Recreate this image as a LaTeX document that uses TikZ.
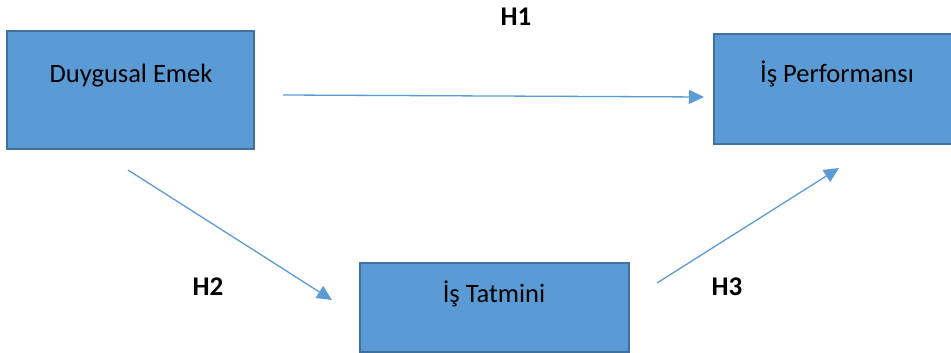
\documentclass[tikz,border=0pt]{standalone}
\usepackage{fontspec}
\setmainfont{Carlito}
\usetikzlibrary{arrows.meta}
\definecolor{boxfill}{HTML}{5B9BD5}
\definecolor{boxline}{HTML}{41719C}
\begin{document}
\begin{tikzpicture}[x=1pt,y=-1pt,
  box/.style={draw=boxline, fill=boxfill, line width=2.5pt, rectangle, inner sep=0pt},
  boxtext/.style={anchor=base, font=\fontsize{26.5}{30}\selectfont, text=black, inner sep=0pt},
  hyp/.style={font=\fontsize{27}{32}\selectfont\bfseries, text=black, inner sep=0pt},
  conn/.style={draw=boxfill, line width=1.3pt, -{Triangle[length=15pt,width=14pt]}}]
\useasboundingbox (0,0) rectangle (951,353);
% boxes
\node[box, minimum width=247pt, minimum height=118pt] (de) at (130.5,90) {};
\node[box, minimum width=250pt, minimum height=110pt] (ip) at (839,89) {};
\node[box, minimum width=269pt, minimum height=89pt] (it) at (494.5,307.5) {};
% texts
\node[boxtext] (detext) at (131,83) {Duygusal Emek};
\node[boxtext] (iptext) at (837,83) {İş Performansı};
\node[boxtext] (ittext) at (494,302) {İş Tatmini};
% hypotheses
\node[hyp] (h1) at (516,17) {H1};
\node[hyp] (h2) at (208,287) {H2};
\node[hyp] (h3) at (727,287) {H3};
% connector ends
\coordinate (a1) at (283,95);
\coordinate (b1) at (704,97);
\coordinate (a2) at (128,170);
\coordinate (b2) at (332,300);
\coordinate (a3) at (657,283);
\coordinate (b3) at (839,168);
\draw[conn] (a1) -- (b1);
\draw[conn] (a2) -- (b2);
\draw[conn] (a3) -- (b3);
\end{tikzpicture}
\end{document}
